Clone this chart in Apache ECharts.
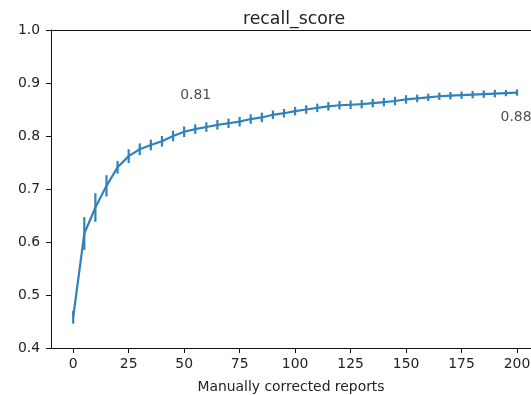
<!DOCTYPE html>
<html>
<head>
<meta charset="utf-8">
<script src="https://cdn.jsdelivr.net/npm/echarts@6/dist/echarts.min.js"></script>
<style>
  html, body { margin: 0; padding: 0; background: #fff; }
  #chart { width: 531px; height: 395px; }
</style>
</head>
<body>
<div id="chart"></div>
<script>
// Number of manually corrected reports at each evaluation step
const reports = [0, 5, 10, 15, 20, 25, 30, 35, 40, 45, 50, 55, 60, 65, 70, 75, 80, 85, 90, 95,
  100, 105, 110, 115, 120, 125, 130, 135, 140, 145, 150, 155, 160, 165, 170, 175, 180, 185, 190, 195, 200];

// Mean recall score per step
const recall = [0.458, 0.616, 0.665, 0.706, 0.741, 0.762, 0.775, 0.783, 0.790, 0.800,
  0.808, 0.813, 0.817, 0.821, 0.824, 0.827, 0.832, 0.835, 0.840, 0.843,
  0.847, 0.850, 0.853, 0.856, 0.858, 0.859, 0.860, 0.862, 0.864, 0.866,
  0.869, 0.871, 0.873, 0.875, 0.876, 0.877, 0.878, 0.879, 0.880, 0.881, 0.882];

// Spread (half-length of the error bar) per step
const spread = [0.012, 0.031, 0.027, 0.020, 0.012, 0.013, 0.011, 0.010, 0.010, 0.010,
  0.010, 0.009, 0.009, 0.009, 0.009, 0.009, 0.009, 0.009, 0.008, 0.008,
  0.008, 0.008, 0.008, 0.008, 0.008, 0.008, 0.008, 0.008, 0.008, 0.008,
  0.008, 0.007, 0.007, 0.007, 0.007, 0.007, 0.007, 0.007, 0.007, 0.006, 0.006];

// Axis ticks
const xTicks = [0, 25, 50, 75, 100, 125, 150, 175, 200];

// Value annotations: which step they quote and where the text sits
const annotIndex = [10, 40];
const annotX = [48.2, 192.6];
const annotY = [0.876, 0.835];

const lineColor = '#3182ba';
const textColor = '#222';
const spineColor = '#111';
const font = 'DejaVu Sans';

const lineData = reports.map((r, i) => [r, recall[i]]);
const barData = reports.map((r, i) => [r, recall[i] - spread[i], recall[i] + spread[i]]);
const annotData = annotIndex.map((idx, k) => ({
  value: [annotX[k], annotY[k]],
  text: recall[idx].toFixed(2)
}));

const chart = echarts.init(document.getElementById('chart'), null, { renderer: 'canvas' });

// The plot area runs past the right edge of the canvas, so the x range is cut at 206.3
const xMin = -10, xMax = 206.3;

chart.setOption({
  animation: false,
  backgroundColor: '#fff',
  title: {
    text: 'recall_score',
    left: 243,
    top: 11,
    padding: 0,
    textStyle: { fontFamily: font, fontSize: 17.3, fontWeight: 'normal', color: textColor }
  },
  grid: { left: 51, top: 30, width: 480, height: 318, show: false, outerBoundsMode: 'none', containLabel: false },
  xAxis: [
    {
      type: 'value',
      position: 'bottom',
      min: xMin, max: xMax,
      name: 'Manually corrected reports',
      nameLocation: 'middle',
      nameGap: 32,
      nameTextStyle: { fontFamily: font, fontSize: 13.9, color: textColor },
      axisLine: { show: true, onZero: false, lineStyle: { color: spineColor, width: 1 } },
      axisTick: { show: true, length: 5, customValues: xTicks, lineStyle: { color: spineColor } },
      axisLabel: {
        customValues: xTicks, margin: 9,
        fontFamily: font, fontSize: 13.9, color: textColor
      },
      splitLine: { show: false }
    },
    {
      // top spine
      type: 'value',
      position: 'top',
      min: xMin, max: xMax,
      axisLine: { show: true, onZero: false, lineStyle: { color: spineColor, width: 1 } },
      axisTick: { show: false },
      axisLabel: { show: false },
      splitLine: { show: false }
    }
  ],
  yAxis: {
    type: 'value',
    min: 0.4, max: 1.0, interval: 0.1,
    axisLine: { show: true, onZero: false, lineStyle: { color: spineColor, width: 1 } },
    axisTick: { show: true, length: 5, lineStyle: { color: spineColor } },
    axisLabel: {
      margin: 11,
      fontFamily: font, fontSize: 13.9, color: textColor,
      formatter: v => v.toFixed(1)
    },
    splitLine: { show: false }
  },
  series: [
    {
      type: 'line',
      data: lineData,
      showSymbol: false,
      symbol: 'none',
      lineStyle: { color: lineColor, width: 2.2 },
      z: 3
    },
    {
      type: 'custom',
      data: barData,
      renderItem: (params, api) => {
        const x = api.value(0);
        const lo = api.coord([x, api.value(1)]);
        const hi = api.coord([x, api.value(2)]);
        return {
          type: 'line',
          shape: { x1: lo[0], y1: lo[1], x2: hi[0], y2: hi[1] },
          style: { stroke: lineColor, lineWidth: 2.2 }
        };
      },
      z: 4
    },
    {
      type: 'scatter',
      data: annotData,
      symbolSize: 0,
      silent: true,
      label: {
        show: true,
        position: [0, 0],
        align: 'left',
        verticalAlign: 'middle',
        formatter: p => p.data.text,
        fontFamily: font, fontSize: 13.9, color: textColor
      },
      z: 5
    }
  ]
});
</script>
</body>
</html>
